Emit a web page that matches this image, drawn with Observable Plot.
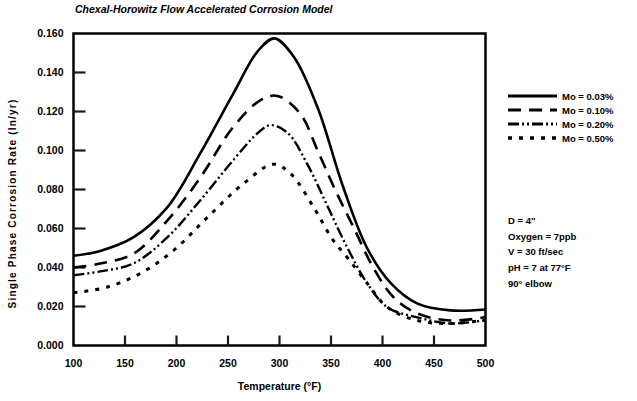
<!DOCTYPE html>
<html><head><meta charset="utf-8">
<script src="https://cdn.jsdelivr.net/npm/d3@7"></script>
<script src="https://cdn.jsdelivr.net/npm/@observablehq/plot@0.6"></script>
<style>
body{margin:0;background:#fff;font-family:"Liberation Sans",Arial,sans-serif;}
#wrap{position:relative;width:637px;height:401px;}
.t{position:absolute;font-weight:bold;color:#000;white-space:nowrap;}
#title{left:75px;top:3px;font-size:10.5px;font-style:italic;}
#ylab{left:-108px;top:198px;width:240px;text-align:center;transform:rotate(-90deg);font-size:10px;letter-spacing:1.2px;}
.leg{position:absolute;left:508px;font-size:9.5px;font-weight:bold;display:flex;align-items:center;}
.leg svg{margin-right:5px;}
.ann{position:absolute;left:508px;font-size:9.5px;font-weight:bold;}
</style></head>
<body><div id="wrap"></div>
<script>
const title = "Chexal-Horowitz Flow Accelerated Corrosion Model";
const yLabel = "Single Phase Corrosion Rate (In/yr)";
const xLabel = "Temperature (°F)";
const xTicks = [100,150,200,250,300,350,400,450,500];
const yTicks = [0,0.02,0.04,0.06,0.08,0.1,0.12,0.14,0.16];
const series = ["Mo = 0.03%","Mo = 0.10%","Mo = 0.20%","Mo = 0.50%"];
const notes = ['D = 4"', "Oxygen = 7ppb", "V = 30 ft/sec", "pH = 7 at 77°F", "90° elbow"];

const temp1 = [100,126,158,191,223,255,279,295,314,337,362,385,408,434,466,500];
const rate1 = [0.046,0.0485,0.0554,0.0708,0.0985,0.129,0.151,0.1575,0.148,0.122,0.081,0.050,0.032,0.0215,0.018,0.0185];
const temp2 = [100,126,158,191,223,255,282,298,320,337,353,372,391,411,434,466,500];
const rate2 = [0.040,0.042,0.047,0.064,0.086,0.112,0.126,0.128,0.119,0.100,0.081,0.0605,0.040,0.0246,0.0164,0.0128,0.0145];
const temp3 = [100,126,158,191,223,255,279,291,308,327,347,366,385,405,434,466,500];
const rate3 = [0.036,0.038,0.042,0.0554,0.0744,0.095,0.109,0.113,0.109,0.093,0.071,0.050,0.032,0.0195,0.0144,0.0113,0.013];
const temp4 = [100,133,165,197,230,265,294,311,333,352,366,385,405,434,466,500];
const rate4 = [0.027,0.030,0.037,0.0487,0.0657,0.083,0.093,0.088,0.071,0.054,0.045,0.032,0.0195,0.0128,0.0113,0.013];

const styles = [
  {dash:null, w:2.6},
  {dash:"13,8", w:2.6},
  {dash:"11,3,2,3,2,3", w:2.4},
  {dash:"4,7", w:3}
];
const temps=[temp1,temp2,temp3,temp4], rates=[rate1,rate2,rate3,rate4];
const rows=[];
series.forEach((s,i)=>temps[i].forEach((t,j)=>rows.push({s,t,r:rates[i][j]})));

const lineMarks = series.map((s,i)=>Plot.line(rows.filter(d=>d.s===s),{
  x:"t", y:"r", curve:"catmull-rom", stroke:"#000", strokeWidth:styles[i].w,
  strokeDasharray:styles[i].dash, strokeLinecap:"butt"}));

const W=637,H=401,mL=73,mR=152,mT=33,mB=56;
const xDom=[100,500], yDom=[0,0.16];
const xPerPx=(xDom[1]-xDom[0])/(W-mL-mR), yPerPx=(yDom[1]-yDom[0])/(H-mT-mB);
const yTickRows=yTicks.slice(1,-1).map(v=>({v, a:xDom[0], b:xDom[0]+12*xPerPx}));
const xTickRows=xTicks.slice(1,-1).map(v=>({v, a:yDom[0], b:yDom[0]+10*yPerPx}));

const chart = Plot.plot({
  width:W, height:H,
  marginLeft:mL, marginRight:mR, marginTop:mT, marginBottom:mB,
  style:{fontFamily:"Liberation Sans, Arial, sans-serif", fontWeight:"bold", fontSize:"10.5px", color:"#000", background:"transparent"},
  x:{domain:xDom},
  y:{domain:yDom},
  marks:[
    Plot.frame({stroke:"#000", strokeWidth:2.5}),
    Plot.axisY(yTicks,{tickSize:0, tickPadding:10, tickFormat:d3.format(".3f"), label:null}),
    Plot.axisX(xTicks,{tickSize:0, tickPadding:14, tickFormat:d=>String(d), label:xLabel, labelAnchor:"center", labelArrow:"none", labelOffset:44}),
    Plot.link(yTickRows,{x1:"a", x2:"b", y1:"v", y2:"v", stroke:"#1a1a1a", strokeWidth:2.2}),
    Plot.link(xTickRows,{x1:"v", x2:"v", y1:"a", y2:"b", stroke:"#1a1a1a", strokeWidth:2.2}),
    ...lineMarks
  ]
});
const wrap=document.getElementById("wrap");
wrap.appendChild(chart);
chart.style.position="absolute"; chart.style.left="0"; chart.style.top="0";

function addText(cls,id,txt,top){const d=document.createElement("div");d.className=cls;if(id)d.id=id;d.textContent=txt;if(top!=null)d.style.top=top+"px";wrap.appendChild(d);return d;}
addText("t","title",title);
addText("t","ylab",yLabel);
const legTops=[90,104,118,132];
series.forEach((s,i)=>{
  const d=document.createElement("div");d.className="leg";d.style.top=legTops[i]+"px";
  const ns="http://www.w3.org/2000/svg";
  const svg=document.createElementNS(ns,"svg");svg.setAttribute("width","49");svg.setAttribute("height","12");
  const l=document.createElementNS(ns,"line");
  l.setAttribute("x1","0");l.setAttribute("x2","49");l.setAttribute("y1","6");l.setAttribute("y2","6");
  l.setAttribute("stroke","#000");l.setAttribute("stroke-width",styles[i].w+0.6);
  if(styles[i].dash)l.setAttribute("stroke-dasharray",styles[i].dash);
  svg.appendChild(l);d.appendChild(svg);
  const sp=document.createElement("span");sp.textContent=s;d.appendChild(sp);
  wrap.appendChild(d);
});
const noteTops=[215,231,246,262,278];
notes.forEach((n,i)=>addText("ann",null,n,noteTops[i]));
</script></body></html>
